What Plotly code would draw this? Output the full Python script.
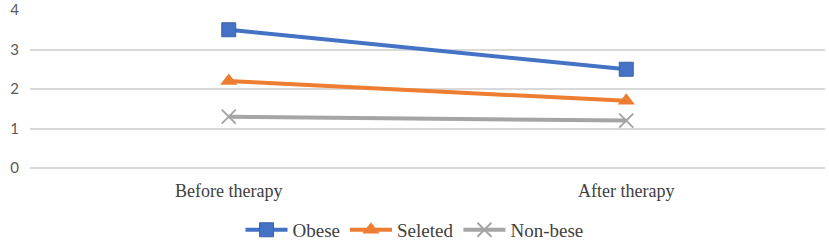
import plotly.graph_objects as go

categories = ["Before therapy", "After therapy"]
obese = [3.5, 2.5]
seleted = [2.2, 1.7]
nonbese = [1.3, 1.2]
y_ticks = [0, 1, 2, 3, 4]

fig = go.Figure()
fig.add_trace(go.Scatter(x=categories, y=obese, name="Obese", mode="lines+markers",
                         line=dict(color="#4472C4", width=4),
                         marker=dict(symbol="square", size=14, color="#4472C4",
                                     line=dict(color="#3A62AA", width=1))))
fig.add_trace(go.Scatter(x=categories, y=seleted, name="Seleted", mode="lines+markers",
                         line=dict(color="#ED7D31", width=4),
                         marker=dict(symbol="triangle-up", size=15, color="#ED7D31")))
fig.add_trace(go.Scatter(x=categories, y=nonbese, name="Non-bese", mode="lines+markers",
                         line=dict(color="#A5A5A5", width=4),
                         marker=dict(symbol="x-thin", size=14,
                                     line=dict(color="#A5A5A5", width=2))))

fig.update_layout(
    width=829, height=240,
    margin=dict(l=30, r=4, t=10, b=72, autoexpand=False),
    paper_bgcolor="white", plot_bgcolor="white",
    showlegend=True,
    legend=dict(orientation="h", x=0.5, xanchor="center", xref="container",
                y=0.042, yanchor="middle", yref="container",
                font=dict(family="Liberation Serif", size=19, color="#404040"),
                itemwidth=42, tracegroupgap=0),
    xaxis=dict(type="category", range=[-0.5, 1.5], showgrid=False, zeroline=False,
               showline=False, ticks="", automargin=False, ticklabelstandoff=10,
               tickfont=dict(family="Liberation Serif", size=18, color="#404040")),
    yaxis=dict(range=[0, 4], tickvals=y_ticks, showgrid=True, gridcolor="#D9D9D9",
               gridwidth=2, zeroline=True, zerolinecolor="#D9D9D9", zerolinewidth=2,
               showline=False, ticks="", automargin=False, ticklabelstandoff=10,
               tickfont=dict(family="Lato", size=15, color="#595959")),
)

fig.write_html("out.html", config={"displayModeBar": False},
               post_script="document.body.style.margin='0';document.body.style.padding='0';")
